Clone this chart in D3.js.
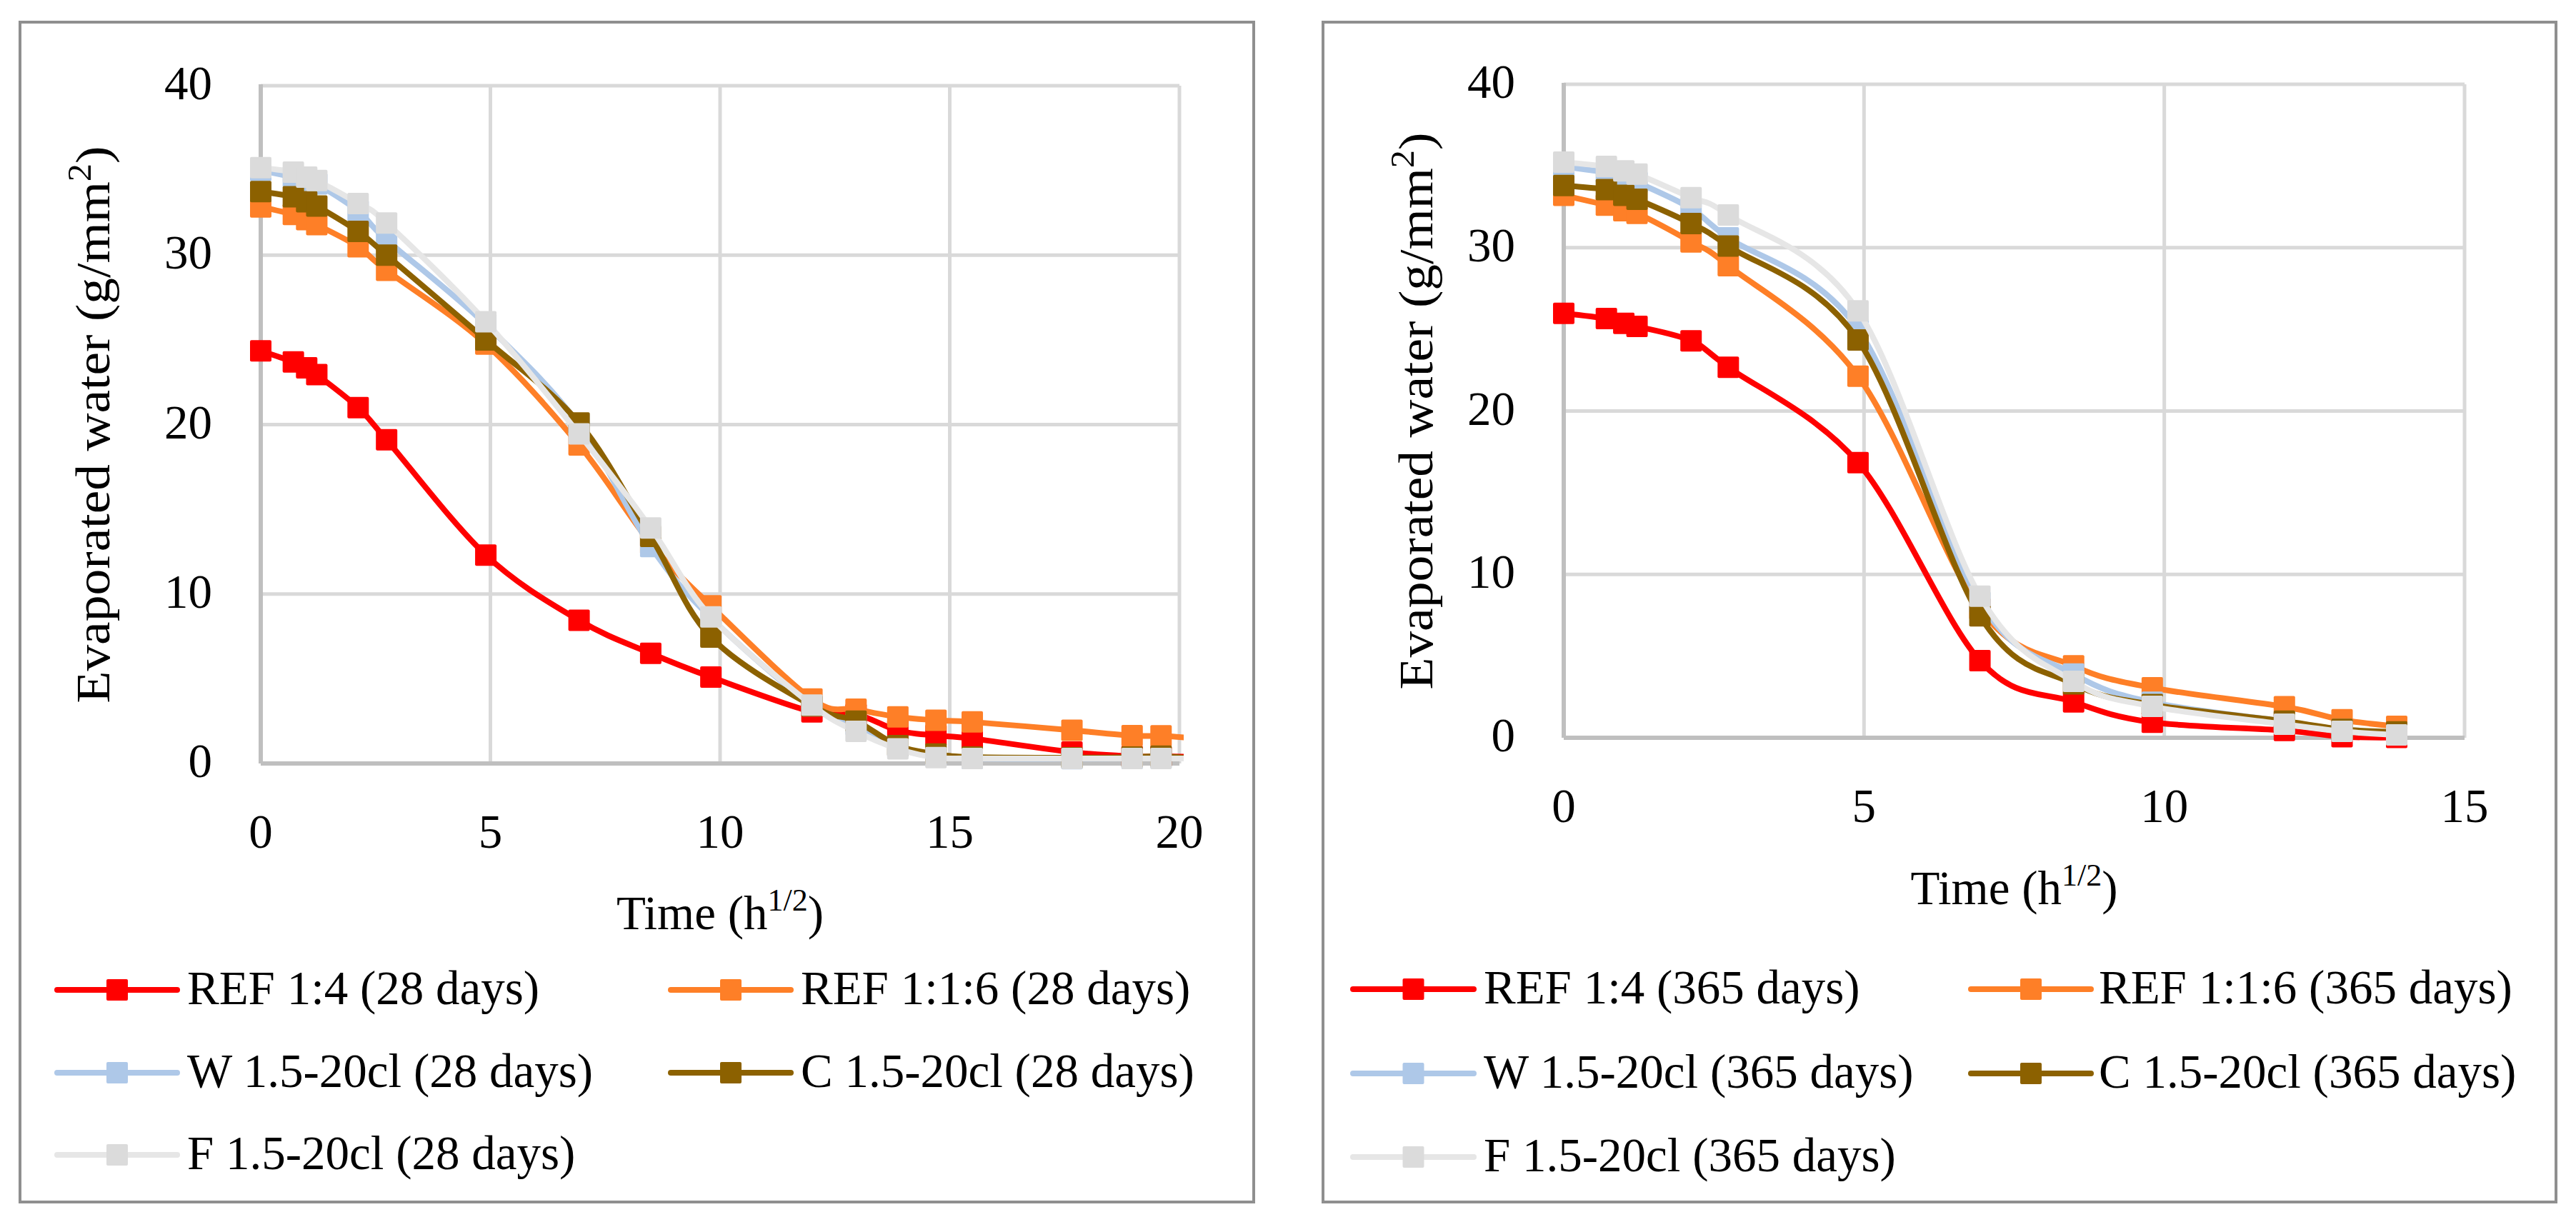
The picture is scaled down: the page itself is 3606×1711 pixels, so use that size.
<!DOCTYPE html>
<html>
<head>
<meta charset="utf-8">
<script src="https://cdnjs.cloudflare.com/ajax/libs/d3/7.8.5/d3.min.js"></script>
<style>
	body { margin: 0; background: #fff; }
	svg { display: block; font-family: 'Liberation Serif', 'Times New Roman', serif; }
</style>
</head>
<body>
<svg id="chart" width="3606" height="1711"></svg>
<script>
// time in h^1/2
const time28 = [0, 0.71, 1.0, 1.22, 2.12, 2.74, 4.9, 6.93, 8.49, 9.8, 12.0, 12.96, 13.87, 14.7, 15.49, 17.66, 18.97, 19.6, 20.25]
const time365 = [0, 0.71, 1.0, 1.22, 2.12, 2.74, 4.9, 6.93, 8.49, 9.8, 12.0, 12.96, 13.87]

// evaporated water, 28 days
const ref14_28 = [24.35, 23.7, 23.35, 22.95, 21.0, 19.1, 12.3, 8.45, 6.5, 5.1, 3.05, 2.9, 1.95, 1.65, 1.47, 0.67, 0.42, 0.42, 0.4]
const ref116_28 = [32.85, 32.4, 32.1, 31.8, 30.5, 29.1, 24.75, 18.8, 13.0, 9.3, 3.8, 3.2, 2.75, 2.55, 2.45, 1.96, 1.64, 1.63, 1.5]
const w_28 = [35.0, 34.6, 34.4, 34.2, 32.6, 30.9, 25.9, 20.0, 12.8, 8.6, 3.4, 2.3, 1.0, 0.45, 0.3, 0.28, 0.3, 0.32, 0.3]
const c_28 = [33.75, 33.45, 33.15, 32.9, 31.4, 30.0, 25.0, 20.1, 13.4, 7.46, 3.4, 2.5, 1.05, 0.56, 0.38, 0.34, 0.38, 0.43, 0.3]
const f_28 = [35.16, 34.9, 34.6, 34.4, 33.05, 31.9, 26.07, 19.45, 13.9, 8.65, 3.45, 1.9, 0.86, 0.35, 0.3, 0.3, 0.3, 0.3, 0.3]

// evaporated water, 365 days
const ref14_365 = [25.98, 25.66, 25.37, 25.18, 24.3, 22.68, 16.84, 4.72, 2.2, 0.95, 0.45, 0.07, 0.02]
const ref116_365 = [33.2, 32.6, 32.26, 32.1, 30.35, 28.9, 22.13, 7.9, 4.4, 3.06, 1.9, 1.1, 0.7]
const w_365 = [34.95, 34.6, 34.3, 34.0, 32.4, 30.6, 25.0, 8.3, 3.9, 2.17, 1.0, 0.5, 0.3]
const c_365 = [33.8, 33.55, 33.2, 32.96, 31.47, 30.1, 24.35, 7.46, 3.3, 2.03, 1.02, 0.51, 0.36]
const f_365 = [35.23, 34.97, 34.7, 34.5, 33.06, 32.0, 26.13, 8.67, 3.45, 1.92, 0.83, 0.39, 0.17]

const seriesLabels = ['REF 1:4', 'REF 1:1:6', 'W 1.5-20cl', 'C 1.5-20cl', 'F 1.5-20cl']
const lineColors = ['#ff0000', '#fe7f27', '#aec8e8', '#8c6100', '#e6e6e6']
const markerColors = ['#ff0000', '#fe7f27', '#aec8e8', '#8c6100', '#dbdbdb']
const yTicks = [0, 10, 20, 30, 40]
const xTicks28 = [0, 5, 10, 15, 20]
const xTicks365 = [0, 5, 10, 15]

const panels = [
	{
		id: 'p28', days: '28 days',
		box: [28, 31, 1755, 1683],
		plot: [365, 120, 1651, 1069],
		xMax: 20, xTicks: xTicks28, time: time28,
		values: [ref14_28, ref116_28, w_28, c_28, f_28],
		yTitleX: 153, xTitleY: 1301,
		legendCols: [[80, 248, 262], [939, 1107, 1121]],
		legendRows: [1386, 1502, 1617]
	},
	{
		id: 'p365', days: '365 days',
		box: [1852, 31, 3578, 1683],
		plot: [2189, 118, 3450, 1033],
		xMax: 15, xTicks: xTicks365, time: time365,
		values: [ref14_365, ref116_365, w_365, c_365, f_365],
		yTitleX: 2005, xTitleY: 1266,
		legendCols: [[1894, 2063, 2077], [2759, 2927, 2938]],
		legendRows: [1385, 1503, 1620]
	}
]

const svg = d3.select('#chart')
const fontSize = 67
const markerSize = 30

svg.append('rect')
	.attr('width', 3606)
	.attr('height', 1711)
	.attr('fill', '#fff')

panels.forEach(p => {
	const [bx0, by0, bx1, by1] = p.box
	const [px0, py0, px1, py1] = p.plot

	const x = d3.scaleLinear().domain([0, p.xMax]).range([px0, px1])
	const y = d3.scaleLinear().domain([0, 40]).range([py1, py0])

	const g = svg.append('g').attr('class', 'panel')

	// outer frame
	g.append('rect')
		.attr('x', bx0)
		.attr('y', by0)
		.attr('width', bx1 - bx0)
		.attr('height', by1 - by0)
		.attr('fill', '#fff')
		.attr('stroke', '#8f8f8f')
		.attr('stroke-width', 4)

	// gridlines
	g.append('g')
		.selectAll('line')
		.data(yTicks.filter(d => d > 0))
		.join('line')
		.attr('x1', px0)
		.attr('x2', px1)
		.attr('y1', d => y(d))
		.attr('y2', d => y(d))
		.attr('stroke', '#d9d9d9')
		.attr('stroke-width', 5)

	g.append('g')
		.selectAll('line')
		.data(p.xTicks.filter(d => d > 0))
		.join('line')
		.attr('x1', d => x(d))
		.attr('x2', d => x(d))
		.attr('y1', py0)
		.attr('y2', py1)
		.attr('stroke', '#d9d9d9')
		.attr('stroke-width', 5)

	// axis lines
	g.append('line')
		.attr('x1', px0).attr('x2', px0)
		.attr('y1', py0 - 2).attr('y2', py1)
		.attr('stroke', '#bfbfbf')
		.attr('stroke-width', 6)

	g.append('line')
		.attr('x1', px0).attr('x2', px1)
		.attr('y1', py1).attr('y2', py1)
		.attr('stroke', '#bfbfbf')
		.attr('stroke-width', 6)

	// tick labels
	g.append('g')
		.selectAll('text')
		.data(yTicks)
		.join('text')
		.attr('x', px0 - 68)
		.attr('y', d => y(d) + 19)
		.attr('text-anchor', 'end')
		.attr('font-size', fontSize)
		.text(d => d)

	g.append('g')
		.selectAll('text')
		.data(p.xTicks)
		.join('text')
		.attr('x', d => x(d))
		.attr('y', py1 + 118)
		.attr('text-anchor', 'middle')
		.attr('font-size', fontSize)
		.text(d => d)

	// axis titles
	const yTitle = g.append('text')
		.attr('transform', `translate(${p.yTitleX},${(py0 + py1) / 2}) rotate(-90)`)
		.attr('text-anchor', 'middle')
		.attr('font-size', fontSize)
		.attr('textLength', 780)
		.attr('lengthAdjust', 'spacingAndGlyphs')
	yTitle.append('tspan').text('Evaporated water (g/mm')
	yTitle.append('tspan').attr('font-size', 46).attr('dy', -26).text('2')
	yTitle.append('tspan').attr('dy', 26).text(')')

	const xTitle = g.append('text')
		.attr('x', (px0 + px1) / 2)
		.attr('y', p.xTitleY)
		.attr('text-anchor', 'middle')
		.attr('font-size', fontSize)
	xTitle.append('tspan').text('Time (h')
	xTitle.append('tspan').attr('font-size', 44).attr('dy', -26).text('1/2')
	xTitle.append('tspan').attr('dy', 26).text(')')

	// data
	svg.append('clipPath')
		.attr('id', 'clip-' + p.id)
		.append('rect')
		.attr('x', px0 - 40)
		.attr('y', py0 - 40)
		.attr('width', px1 - px0 + 46)
		.attr('height', py1 - py0 + 80)

	const line = d3.line()
		.x(d => x(d[0]))
		.y(d => y(d[1]))
		.curve(d3.curveCardinal.tension(0))

	p.values.forEach((vals, i) => {
		const pts = p.time.map((t, k) => [t, vals[k]])
		const sg = g.append('g')

		sg.append('path')
			.datum(pts)
			.attr('d', line)
			.attr('clip-path', `url(#clip-${p.id})`)
			.attr('fill', 'none')
			.attr('stroke', lineColors[i])
			.attr('stroke-width', 8)
			.attr('stroke-linejoin', 'round')

		sg.selectAll('rect')
			.data(pts.filter(d => d[0] <= p.xMax))
			.join('rect')
			.attr('x', d => x(d[0]) - markerSize / 2)
			.attr('y', d => y(d[1]) - markerSize / 2)
			.attr('width', markerSize)
			.attr('height', markerSize)
			.attr('rx', 2)
			.attr('fill', markerColors[i])
	})

	// legend
	seriesLabels.forEach((name, i) => {
		const [lx0, lx1, tx] = p.legendCols[i % 2]
		const ly = p.legendRows[Math.floor(i / 2)]
		const lg = g.append('g')

		lg.append('line')
			.attr('x1', lx0).attr('x2', lx1)
			.attr('y1', ly).attr('y2', ly)
			.attr('stroke', lineColors[i])
			.attr('stroke-width', 8)
			.attr('stroke-linecap', 'round')

		lg.append('rect')
			.attr('x', (lx0 + lx1) / 2 - markerSize / 2)
			.attr('y', ly - markerSize / 2)
			.attr('width', markerSize)
			.attr('height', markerSize)
			.attr('rx', 2)
			.attr('fill', markerColors[i])

		lg.append('text')
			.attr('x', tx)
			.attr('y', ly + 20)
			.attr('font-size', fontSize)
			.text(`${name} (${p.days})`)
	})
})
</script>
</body>
</html>
